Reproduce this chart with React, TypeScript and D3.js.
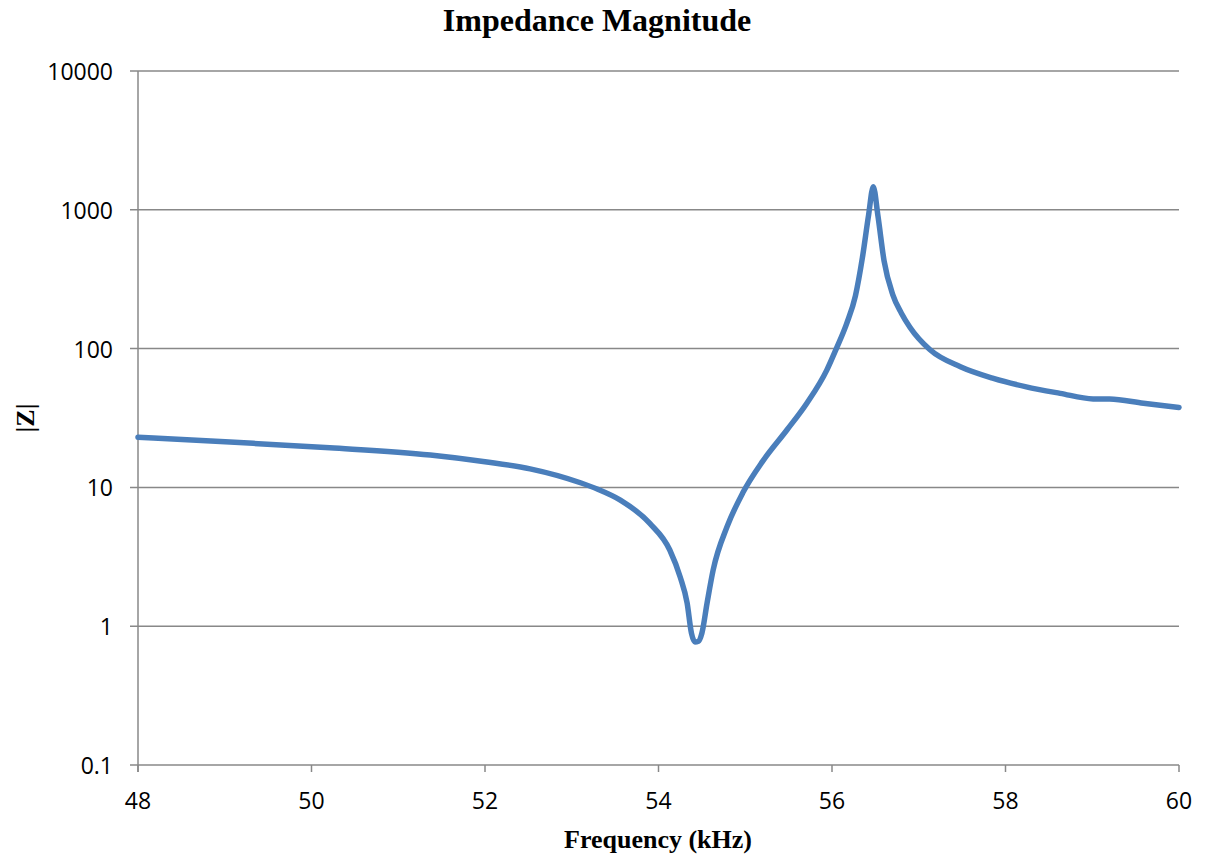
import React from "react";
import * as d3 from "d3";

const freqKHz: number[] = [
  48.0, 49.06, 50.21, 51.37, 52.0, 52.52, 53.1, 53.3, 53.56, 53.9, 54.13, 54.25, 54.33,
  54.38, 54.42, 54.46, 54.5, 54.56, 54.63, 54.79, 54.97, 55.2, 55.48, 55.71, 55.94,
  56.05, 56.17, 56.27, 56.35, 56.42, 56.476, 56.53, 56.6, 56.7, 56.8, 56.9,
  57.13, 57.48, 57.86, 58.24, 58.63, 59.01, 59.2, 59.59, 60.0,
];
const impedance: number[] = [
  23.0, 21.2, 19.3, 17.1, 15.3, 13.6, 10.8, 9.7, 8.1, 5.5, 3.54, 2.26, 1.47,
  0.89, 0.77, 0.78, 0.89, 1.47, 2.54, 5.2, 9.1, 15.4, 25.9, 40.4, 70,
  100, 152, 240, 450, 900, 1467, 900, 430, 245, 180, 142,
  98, 74, 61, 53, 47.6, 43.4, 43.3, 40.4, 37.7,
];
const xTicks: number[] = [48, 50, 52, 54, 56, 58, 60];
const yTicks: number[] = [0.1, 1, 10, 100, 1000, 10000];

const title = "Impedance Magnitude";
const xTitle = "Frequency (kHz)";
const yTitle = "|Z|";

export default function App() {
  const W = 1209, H = 856;
  const left = 138, right = 1179, top = 71, bottom = 765;
  const x = d3.scaleLinear().domain([48, 60]).range([left, right]);
  const y = d3.scaleLog().domain([0.1, 10000]).range([bottom, top]);
  const pts: [number, number][] = freqKHz.map((f, i) => [f, impedance[i]]);
  const line = d3
    .line<[number, number]>()
    .x((d) => x(d[0]))
    .y((d) => y(d[1]))
    .curve(d3.curveMonotoneX);
  const grid = "#888888";
  const tickFont = "'Open Sans', 'Liberation Sans', sans-serif";
  const serif = "'Liberation Serif', 'Times New Roman', serif";
  return (
    <svg
      width={W}
      height={H}
      style={{ position: "absolute", left: 0, top: 0, background: "#fff" }}
    >
      <rect x={0} y={0} width={W} height={H} fill="#fff" />
      {yTicks.map((t) => (
        <g key={"y" + t}>
          <line x1={left - 8} x2={right} y1={y(t)} y2={y(t)} stroke={grid} strokeWidth={1.5} />
          <text
            x={113}
            y={y(t)}
            textAnchor="end"
            dominantBaseline="central"
            fontFamily={tickFont}
            fontSize={23}
            fill="#000"
          >
            {String(t)}
          </text>
        </g>
      ))}
      <line x1={left} x2={left} y1={top} y2={bottom + 7} stroke={grid} strokeWidth={1.5} />
      {xTicks.map((t) => (
        <g key={"x" + t}>
          <line x1={x(t)} x2={x(t)} y1={bottom} y2={bottom + 7} stroke={grid} strokeWidth={1.5} />
          <text
            x={x(t)}
            y={800}
            textAnchor="middle"
            dominantBaseline="central"
            fontFamily={tickFont}
            fontSize={23}
            fill="#000"
          >
            {t}
          </text>
        </g>
      ))}
      <path
        d={line(pts) || ""}
        fill="none"
        stroke="#4A7EBB"
        strokeWidth={5.5}
        strokeLinejoin="round"
        strokeLinecap="round"
      />
      <text
        x={597}
        y={31}
        textAnchor="middle"
        fontFamily={serif}
        fontWeight="bold"
        fontSize={32}
        fill="#000"
      >
        {title}
      </text>
      <text
        x={658}
        y={848}
        textAnchor="middle"
        fontFamily={serif}
        fontWeight="bold"
        fontSize={26}
        fill="#000"
      >
        {xTitle}
      </text>
      <text
        transform={`translate(34, ${(top + bottom) / 2}) rotate(-90)`}
        textAnchor="middle"
        fontFamily={serif}
        fontWeight="bold"
        fontSize={26}
        fill="#000"
      >
        {yTitle}
      </text>
    </svg>
  );
}
